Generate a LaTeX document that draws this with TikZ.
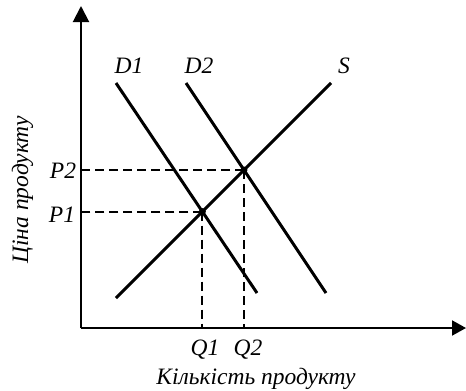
\documentclass[tikz,border=0pt]{standalone}
\usepackage{fontspec}
\setmainfont{Liberation Serif}
\usetikzlibrary{arrows.meta,calc}
\begin{document}
\begin{tikzpicture}[x=1pt,y=-1pt,
  axisline/.style={line width=2pt},
  curve/.style={line width=3pt},
  guide/.style={line width=2pt,dash pattern=on 9pt off 5pt},
  lbl/.style={font=\fontsize{23.5}{27}\selectfont\itshape,inner sep=0pt,anchor=base},
  dot/.style={circle,fill=black,inner sep=0pt,minimum size=7pt}]
\useasboundingbox (0,0) rectangle (466,391);
\coordinate (O) at (81,328);
\coordinate (ytop) at (81,6);
\coordinate (xend) at (466,328);
\draw[axisline,-{Triangle[length=16pt,width=16pt]}] (O) -- (ytop);
\draw[axisline,-{Triangle[length=14pt,width=15pt]}] (O) -- (xend);
\coordinate (d1a) at (116,83);
\coordinate (d1b) at (257,293);
\coordinate (d2a) at (186,83);
\coordinate (d2b) at (326,293);
\coordinate (sa) at (116,298);
\coordinate (sb) at (331,83);
\coordinate (E1) at (intersection of d1a--d1b and sa--sb);
\coordinate (E2) at (intersection of d2a--d2b and sa--sb);
\draw[guide] (E1) -- (E1 -| O);
\draw[guide] (E2) -- (E2 -| O);
\draw[guide] (E1) -- (E1 |- O);
\draw[guide] (E2) -- (E2 |- O);
\draw[curve] (d1a) -- (d1b);
\draw[curve] (d2a) -- (d2b);
\draw[curve] (sa) -- (sb);
\node[dot] (e1) at (E1) {};
\node[dot] (e2) at (E2) {};
\node[lbl] (ld1) at (129,73) {D1};
\node[lbl] (ld2) at (199,73) {D2};
\node[lbl] (ls) at (344,73) {S};
\node[lbl] (lp2) at (63,178) {P2};
\node[lbl] (lp1) at (62,222) {P1};
\node[lbl] (lq1) at (205,355) {Q1};
\node[lbl] (lq2) at (248,355) {Q2};
\node[lbl] (lx) at (256,384) {Кількість продукту};
\node[lbl,rotate=90] (ly) at (28,190) {Ціна продукту};
\end{tikzpicture}
\end{document}
